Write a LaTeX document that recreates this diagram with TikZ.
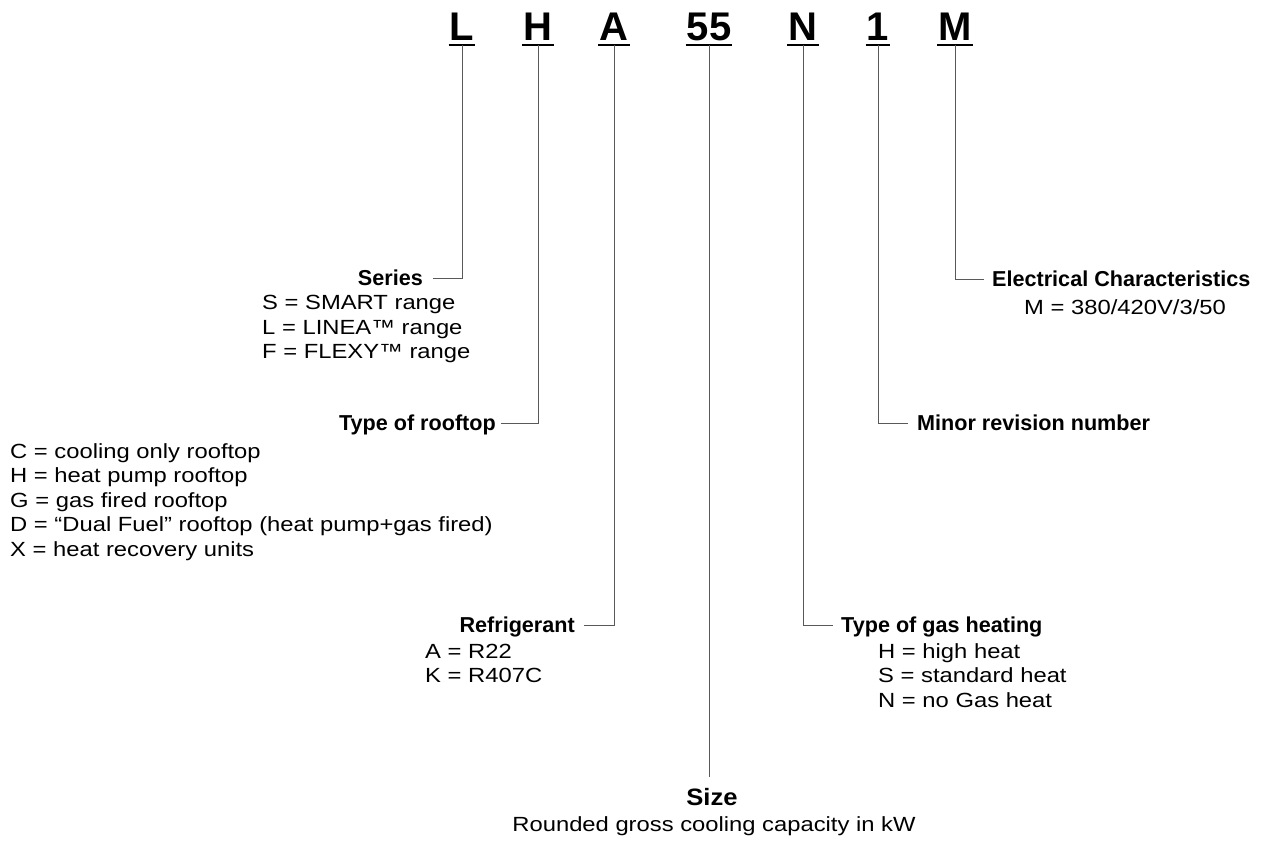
\documentclass[tikz,border=0pt]{standalone}
\usepackage{fontspec}
\setmainfont{Liberation Sans}
\begin{document}
\begin{tikzpicture}[x=1pt,y=-1pt,
  letter/.style={font=\fontsize{40}{40}\selectfont\bfseries, inner xsep=1pt, inner ysep=0pt, text height=29pt, text depth=5pt, anchor=base},
  uline/.style={draw=black, line width=2pt},
  conn/.style={draw=black!65, line width=1pt},
  head/.style={font=\fontsize{21.6}{24}\selectfont\bfseries, inner sep=0pt, text height=15.5pt, text depth=0pt},
  body/.style={font=\fontsize{20.5}{24}\selectfont, inner sep=0pt, anchor=base west, xscale=1.16},
  sizehead/.style={font=\fontsize{23.7}{24}\selectfont\bfseries, inner sep=0pt, anchor=base, xscale=1.08}
]
\useasboundingbox[fill=white] (0,0) rectangle (1266,844);

% code letters
\node[letter] (L) at (462,40) {L};
\node[letter] (H) at (538,40) {H};
\node[letter] (A) at (614,40) {A};
\node[letter] (S55) at (709,40) {55};
\node[letter] (N) at (803,40) {N};
\node[letter] (one) at (878,40) {1};
\node[letter] (M) at (955,40) {M};
\foreach \n in {L,H,A,S55,N,one,M} \draw[uline] (\n.south west) -- (\n.south east);

% headings
\node[head, anchor=east] (series) at (423,278) {Series};
\node[head, anchor=east] (rooftop) at (496,423) {Type of rooftop};
\node[head, anchor=east] (refrig) at (575,625) {Refrigerant};
\node[head, anchor=west] (gas) at (841,625) {Type of gas heating};
\node[head, anchor=west] (minor) at (917,423) {Minor revision number};
\node[head, anchor=west] (elec) at (992,279) {Electrical Characteristics};
\node[sizehead] (size) at (712,805) {Size};
\coordinate (sizetop) at (S55.south |- size.north);

% connectors
\draw[conn, shorten >=10pt] (L.south) |- (series.east);
\draw[conn, shorten >=5pt] (H.south) |- (rooftop.east);
\draw[conn, shorten >=9pt] (A.south) |- (refrig.east);
\draw[conn, shorten >=11pt] (S55.south) -- (sizetop);
\draw[conn, shorten >=8pt] (N.south) |- (gas.west);
\draw[conn, shorten >=9pt] (one.south) |- (minor.west);
\draw[conn, shorten >=8pt] (M.south) |- (elec.west);

% series list
\node[body] (s1) at (262,309.5) {S = SMART range};
\node[body] (s2) at (262,334) {L = LINEA™ range};
\node[body] (s3) at (262,358.5) {F = FLEXY™ range};

% rooftop list
\node[body] (r1) at (10,458) {C = cooling only rooftop};
\node[body] (r2) at (10,482.5) {H = heat pump rooftop};
\node[body] (r3) at (10,507) {G = gas fired rooftop};
\node[body] (r4) at (10,531.5) {D = “Dual Fuel” rooftop (heat pump+gas fired)};
\node[body] (r5) at (10,556) {X = heat recovery units};

% refrigerant list
\node[body] (f1) at (425,658) {A = R22};
\node[body] (f2) at (425,682.5) {K = R407C};

% gas list
\node[body] (g1) at (878,658) {H = high heat};
\node[body] (g2) at (878,682.5) {S = standard heat};
\node[body] (g3) at (878,707) {N = no Gas heat};

% electrical
\node[body] (e1) at (1024,314.5) {M = 380/420V/3/50};

% size
\node[body, anchor=base] (z1) at (714,831) {Rounded gross cooling capacity in kW};
\end{tikzpicture}
\end{document}
